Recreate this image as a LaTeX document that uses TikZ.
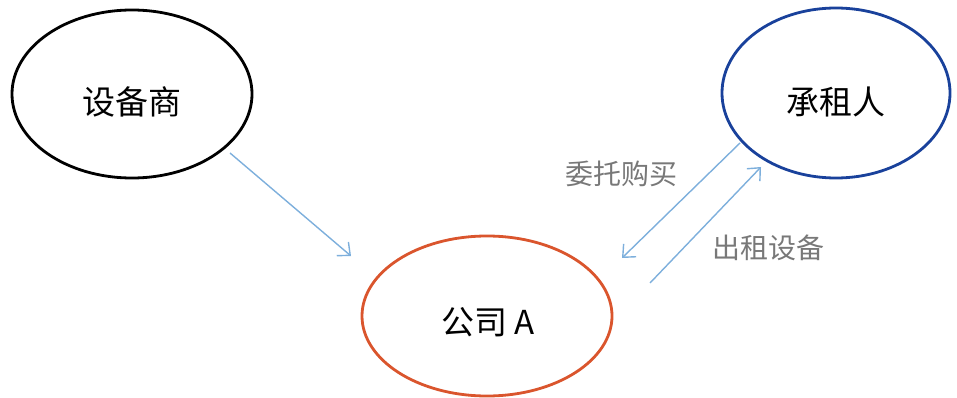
\documentclass[tikz,border=0pt]{standalone}
\usepackage{fontspec}
\setmainfont{Noto Sans CJK SC}
\usetikzlibrary{shapes.geometric,arrows.meta}
\definecolor{arrowblue}{RGB}{125,175,220}
\definecolor{labelgray}{RGB}{120,120,120}
\definecolor{compred}{RGB}{218,85,45}
\definecolor{lessblue}{RGB}{25,65,155}
\begin{document}
\begin{tikzpicture}[x=1pt,y=-1pt,
  ent/.style={ellipse,draw,line width=2.8pt,inner sep=0pt},
  enttext/.style={font=\fontsize{33}{33}\selectfont},
  conn/.style={draw=arrowblue,line width=1.4pt,-{Straight Barb[length=10pt,width=18pt,line width=1.4pt]}},
  lbl/.style={text=labelgray,font=\fontsize{28}{28}\selectfont}]
\useasboundingbox (0,0) rectangle (957,398);
\node[ent,minimum width=240pt,minimum height=168pt] (sup) at (132,94) {};
\node[enttext] (supt) at (132,102) {设备商};
\node[ent,draw=compred,minimum width=250pt,minimum height=160pt] (comp) at (487,316) {};
\node[enttext] (compt) at (488,322) {公司 A};
\node[ent,draw=lessblue,minimum width=228pt,minimum height=170pt] (les) at (836,93) {};
\node[enttext] (lest) at (836,102) {承租人};
\coordinate (s1) at (230,153);
\coordinate (s2) at (351,256);
\coordinate (p1) at (740,143);
\coordinate (p2) at (622,258);
\coordinate (r1) at (650,283);
\coordinate (r2) at (761,167);
\draw[conn] (s1) -- (s2);
\draw[conn] (p1) -- (p2);
\draw[conn] (r1) -- (r2);
\node[lbl] (lp) at (621,174) {委托购买};
\node[lbl] (lr) at (768,248) {出租设备};
\end{tikzpicture}
\end{document}
